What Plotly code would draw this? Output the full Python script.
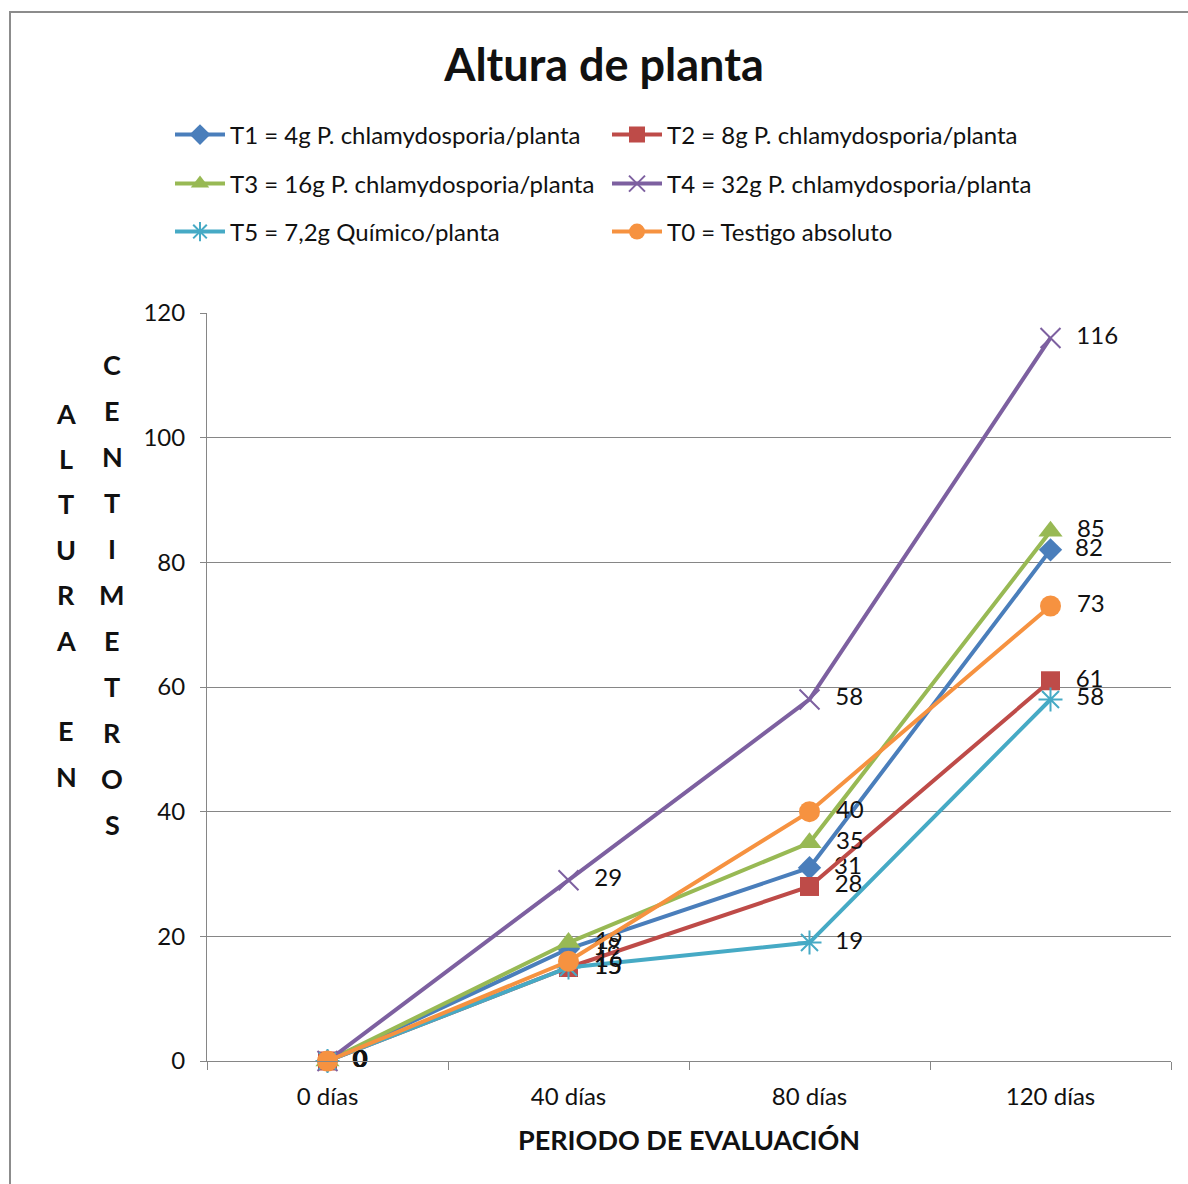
import plotly.graph_objects as go

# Evaluation periods and plant height (cm) per treatment
periodos = ["0 días", "40 días", "80 días", "120 días"]
t1 = [0, 18, 31, 82]
t2 = [0, 15, 28, 61]
t3 = [0, 19, 35, 85]
t4 = [0, 29, 58, 116]
t5 = [0, 15, 19, 58]
t0 = [0, 16, 40, 73]

nombres = [
    "T1 = 4g P. chlamydosporia/planta",
    "T2 = 8g P. chlamydosporia/planta",
    "T3 = 16g P. chlamydosporia/planta",
    "T4 = 32g P. chlamydosporia/planta",
    "T5 = 7,2g Químico/planta",
    "T0 = Testigo absoluto",
]
y_ticks = [0, 20, 40, 60, 80, 100, 120]

FONT = "Lato"
W, H = 1188, 1184
L, R, T, B = 207, 17, 313, 123
PW, PH = W - L - R, H - T - B


def px_x(x):
    return (x - L) / PW


def px_y(y):
    return (H - B - y) / PH


estilos = [
    dict(color="#4A7EBB", symbol="diamond", size=18, lw=0),
    dict(color="#BE4B48", symbol="square", size=19, lw=0),
    dict(color="#98B954", symbol="triangle-up", size=21, lw=0),
    dict(color="#7D60A0", symbol="x-thin", size=20, lw=2),
    dict(color="#46AAC5", symbol="asterisk", size=20, lw=2),
    dict(color="#F69240", symbol="circle", size=21, lw=0),
]
series = [t1, t2, t3, t4, t5, t0]
leyendas = ["legend", "legend", "legend2", "legend2", "legend3", "legend3"]

fig = go.Figure()
for nombre, vals, st, lg in zip(nombres, series, estilos, leyendas):
    fig.add_trace(go.Scatter(
        x=periodos, y=vals, name=nombre, legend=lg,
        mode="lines+markers+text",
        text=[str(v) for v in vals],
        texttemplate="  %{text}",
        textposition="middle right",
        textfont=dict(family=FONT, size=24, color="#111111"),
        line=dict(color=st["color"], width=4),
        marker=dict(symbol=st["symbol"], size=st["size"], color=st["color"],
                    line=dict(color=st["color"], width=st["lw"])),
        cliponaxis=False,
    ))

leg_common = dict(
    orientation="h", x=px_x(170), xanchor="left", yanchor="middle",
    font=dict(family=FONT, size=24, color="#111111"),
    bgcolor="rgba(0,0,0,0)", itemwidth=50,
    entrywidth=372, entrywidthmode="pixels",
)

# Vertical stacked y-axis title, one letter per line
anotaciones = []
col1 = "ALTURA EN"
col2 = "CENTIMETROS"
letra = dict(family=FONT, size=27, color="#111111", weight="bold")
for i, ch in enumerate(col1):
    if ch.strip():
        anotaciones.append(dict(
            x=px_x(66), y=px_y(413 + 45.4 * i), xref="paper", yref="paper",
            text=ch, showarrow=False, xanchor="center", yanchor="middle",
            font=letra,
        ))
for i, ch in enumerate(col2):
    anotaciones.append(dict(
        x=px_x(112), y=px_y(365 + 45.9 * i), xref="paper", yref="paper",
        text=ch, showarrow=False, xanchor="center", yanchor="middle",
        font=letra,
    ))
anotaciones.append(dict(
    x=0.5, y=px_y(1139), xref="paper", yref="paper",
    text="PERIODO DE EVALUACIÓN", showarrow=False,
    xanchor="center", yanchor="middle",
    font=letra,
))

fig.update_layout(
    width=W, height=H,
    margin=dict(l=L, r=R, t=T, b=B),
    paper_bgcolor="white", plot_bgcolor="white",
    title=dict(text="Altura de planta", x=604 / W, xanchor="center",
               y=1 - 65 / H, yanchor="middle",
               font=dict(family=FONT, size=45, color="#111111", weight="bold")),
    legend=dict(**leg_common, y=px_y(135)),
    legend2=dict(**leg_common, y=px_y(184)),
    legend3=dict(**leg_common, y=px_y(232)),
    annotations=anotaciones,
    shapes=[dict(type="rect", xref="paper", yref="paper",
                 x0=px_x(10), x1=px_x(1200), y0=px_y(1200), y1=px_y(12),
                 line=dict(color="#8C8C8C", width=2), layer="below")],
    xaxis=dict(
        type="category", range=[-0.5, 3.5], tickson="boundaries",
        ticks="outside", ticklen=8, tickcolor="#868686",
        showline=True, linecolor="#868686", linewidth=1,
        showgrid=False, zeroline=False,
        tickfont=dict(family=FONT, size=24, color="#111111"),
        ticklabelstandoff=14,
    ),
    yaxis=dict(
        range=[0, 120], tickvals=y_ticks,
        ticks="outside", ticklen=6, tickcolor="#868686",
        showline=True, linecolor="#868686", linewidth=1,
        showgrid=True, gridcolor="#868686", gridwidth=1, zeroline=False,
        tickfont=dict(family=FONT, size=24, color="#111111"),
        ticklabelstandoff=10,
    ),
)

fig.write_html("out.html")
